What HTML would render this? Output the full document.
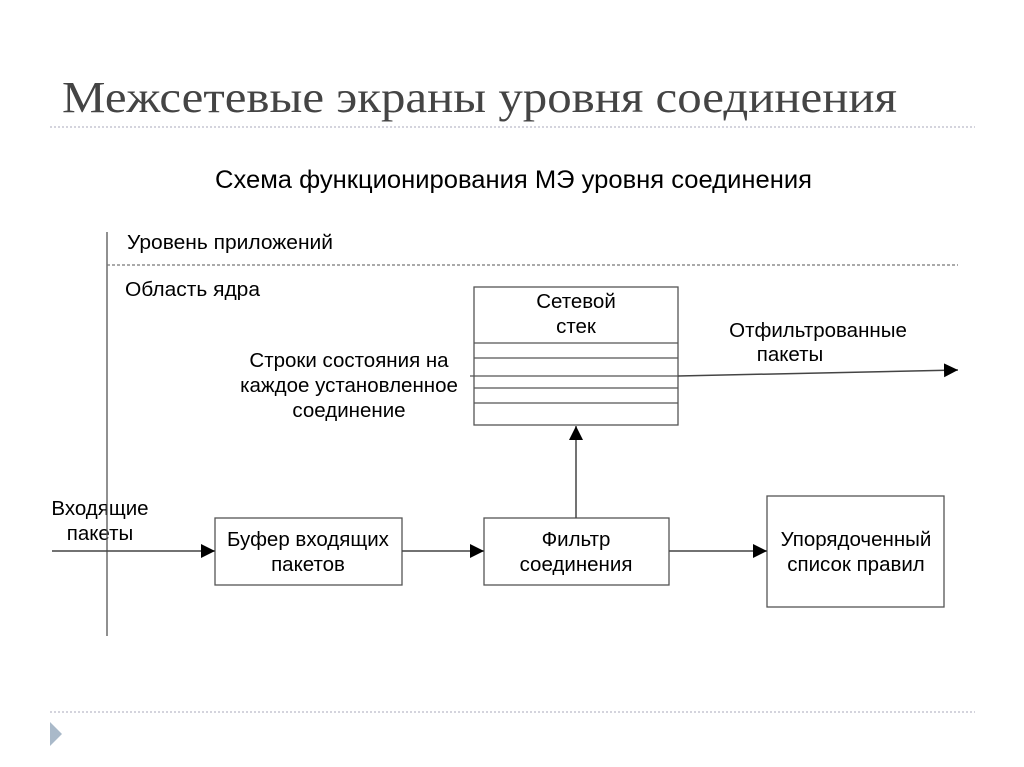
<!DOCTYPE html>
<html><head><meta charset="utf-8"><style>html,body{margin:0;padding:0;background:#fff}svg{display:block}</style></head><body>
<svg width="1024" height="767" viewBox="0 0 1024 767" xmlns="http://www.w3.org/2000/svg">
<defs><marker id="a" viewBox="0 0 10 10" refX="10" refY="5" markerWidth="14" markerHeight="14" markerUnits="userSpaceOnUse" orient="auto"><path d="M0,0L10,5L0,10z" fill="#000"/></marker></defs>
<text x="62" y="112" font-family="Liberation Serif, serif" font-size="44" fill="#444" textLength="835" lengthAdjust="spacingAndGlyphs">Межсетевые экраны уровня соединения</text>
<line x1="50" y1="127" x2="975" y2="127" stroke="#aab" stroke-dasharray="2,2"/>
<line x1="50" y1="712" x2="975" y2="712" stroke="#aab" stroke-dasharray="2,2"/>
<path d="M50,722L62,734L50,746z" fill="#a9b9c9"/>
<g font-family="Liberation Sans, sans-serif" fill="#000" font-size="20.5" lengthAdjust="spacingAndGlyphs">
<text x="215" y="188" font-size="25" textLength="597" lengthAdjust="spacingAndGlyphs">Схема функционирования МЭ уровня соединения</text>
<text x="127" y="249" textLength="206" lengthAdjust="spacingAndGlyphs">Уровень приложений</text>
<text x="125" y="296" textLength="135" lengthAdjust="spacingAndGlyphs">Область ядра</text>
<text x="576" y="308" text-anchor="middle">Сетевой</text>
<text x="576" y="333" text-anchor="middle">стек</text>
<text x="818" y="337" text-anchor="middle">Отфильтрованные</text>
<text x="790" y="361" text-anchor="middle">пакеты</text>
<text x="349" y="367" text-anchor="middle">Строки состояния на</text>
<text x="349" y="392" text-anchor="middle">каждое установленное</text>
<text x="349" y="417" text-anchor="middle">соединение</text>
<text x="100" y="515" text-anchor="middle">Входящие</text>
<text x="100" y="540" text-anchor="middle">пакеты</text>
<text x="308" y="546" text-anchor="middle">Буфер входящих</text>
<text x="308" y="571" text-anchor="middle">пакетов</text>
<text x="576" y="546" text-anchor="middle">Фильтр</text>
<text x="576" y="571" text-anchor="middle">соединения</text>
<text x="856" y="546" text-anchor="middle">Упорядоченный</text>
<text x="856" y="571" text-anchor="middle">список правил</text>
</g>
<g stroke="#555" fill="none" stroke-width="1.3">
<line x1="107" y1="232" x2="107" y2="636"/>
<line x1="107" y1="265" x2="958" y2="265" stroke="#777" stroke-dasharray="3,2"/>
<rect x="474" y="287" width="204" height="138"/>
<line x1="474" y1="343" x2="678" y2="343"/>
<line x1="474" y1="358" x2="678" y2="358"/>
<line x1="470" y1="376" x2="678" y2="376"/>
<line x1="474" y1="388" x2="678" y2="388"/>
<line x1="474" y1="403" x2="678" y2="403"/>
<rect x="215" y="518" width="187" height="67"/>
<rect x="484" y="518" width="185" height="67"/>
<rect x="767" y="496" width="177" height="111"/>
</g>
<g stroke="#444" stroke-width="1.5" fill="none" marker-end="url(#a)">
<line x1="678" y1="376" x2="958" y2="370"/>
<line x1="576" y1="518" x2="576" y2="426"/>
<line x1="52" y1="551" x2="215" y2="551"/>
<line x1="402" y1="551" x2="484" y2="551"/>
<line x1="669" y1="551" x2="767" y2="551"/>
</g>
</svg>
</body></html>
